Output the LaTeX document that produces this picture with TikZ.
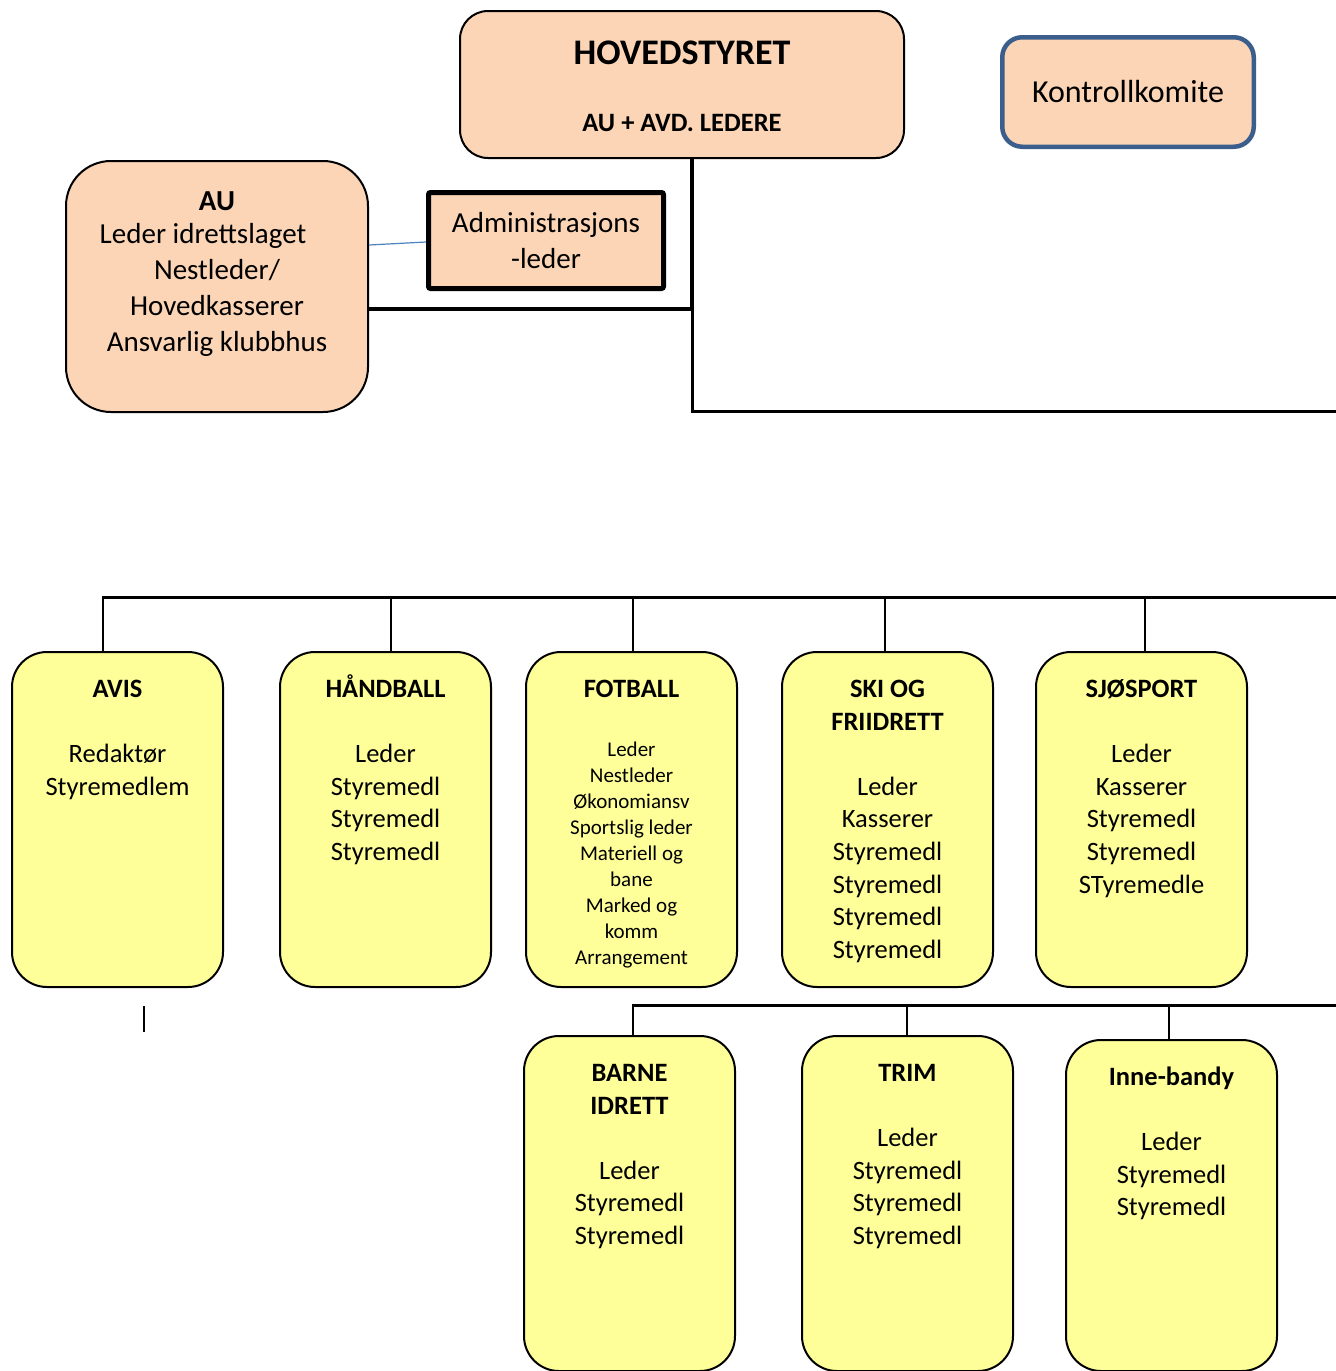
\documentclass[tikz,border=0pt]{standalone}
\usepackage{fontspec}
\setmainfont{Carlito}

\definecolor{peach}{HTML}{FBD5B5}
\definecolor{clubyellow}{HTML}{FFFF99}
\definecolor{kkblue}{HTML}{3B5E8C}
\definecolor{linkblue}{HTML}{4F81BD}

% text set from the top of a box: width, height, first baseline, lines
\newcommand{\boxtext}[4]{\parbox[t][#2][t]{#1}{\centering\rule{0pt}{#3}#4}}
\newcommand{\clubtext}[2][335pt]{\boxtext{211pt}{#1}{45.5pt}{#2}}

\begin{document}
\begin{tikzpicture}[x=1pt, y=-1pt,
    board/.style = {draw, fill=peach, line width=2pt, inner sep=0pt},
    club/.style = {draw, fill=clubyellow, line width=2pt, rounded corners=35pt,
                   inner sep=0pt, anchor=north west,
                   font=\fontsize{26.5}{32.6}\selectfont},
    bus/.style = {line width=3pt, line cap=rect},
    drop/.style = {line width=1.8pt}]
    \useasboundingbox (0,0) rectangle (1336,1371);
    \clip (0,0) rectangle (1336,1371);

    % board and committee
    \node[board, rounded corners=28pt, anchor=north west] (hoved) at (459,10)
        {\boxtext{444pt}{147pt}{53.6pt}{{\fontsize{36}{40}\selectfont\bfseries HOVEDSTYRET\par}%
         \vspace{34.9pt}\fontsize{26.5}{32}\selectfont\bfseries AU + AVD. LEDERE}};
    \node[board, draw=kkblue, line width=4.5pt, rounded corners=20pt,
          minimum width=251.5pt, minimum height=109.5pt,
          font=\fontsize{32}{38}\selectfont] (kontroll) at (1128,92) {Kontrollkomite};
    \node[board, rounded corners=45pt, anchor=north west,
          font=\fontsize{29}{36}\selectfont] (au) at (65,160)
        {\boxtext{302pt}{251pt}{49.3pt}{\textbf{AU}\\[-3pt]Leder idrettslaget\hspace{28pt}\mbox{}\\
         Nestleder/\\Hovedkasserer\\Ansvarlig klubbhus}};
    \node[board, line width=5pt, rounded corners=2pt, minimum width=235pt,
          minimum height=96pt, align=center,
          font=\fontsize{29}{36}\selectfont] (admin) at (546,240.5) {Administrasjons\\-leder};

    % departments, first row
    \node[club] (avis) at (11,651) {\clubtext{\textbf{AVIS}\\~\\Redaktør\\Styremedlem}};
    \node[club] (hand) at (279,651) {\clubtext{\textbf{HÅNDBALL}\\~\\Leder\\Styremedl\\Styremedl\\Styremedl}};
    \node[club] (fot) at (525,651) {\clubtext{\textbf{FOTBALL}\\[33.3pt]\fontsize{21}{26}\selectfont
        Leder\\Nestleder\\Økonomiansv\\Sportslig leder\\Materiell og\\bane\\Marked og\\komm\\Arrangement}};
    \node[club] (ski) at (781,651) {\clubtext{\textbf{SKI OG}\\\textbf{FRIIDRETT}\\~\\Leder\\Kasserer\\
        Styremedl\\Styremedl\\Styremedl\\Styremedl}};
    \node[club] (sjo) at (1035,651) {\clubtext{\textbf{SJØSPORT}\\~\\Leder\\Kasserer\\Styremedl\\Styremedl\\STyremedle}};

    % departments, second row
    \node[club] (barne) at (523,1035) {\clubtext{\textbf{BARNE}\\\textbf{IDRETT}\\~\\Leder\\Styremedl\\Styremedl}};
    \node[club] (trim) at (801,1035) {\clubtext{\textbf{TRIM}\\~\\Leder\\Styremedl\\Styremedl\\Styremedl}};
    \node[club] (inne) at (1065,1039) {\clubtext[331pt]{\textbf{Inne-bandy}\\~\\Leder\\Styremedl\\Styremedl}};

    \coordinate (trunk) at (692,411);
    \coordinate (eastA) at (1336,411);
    \coordinate (bus1) at (1336,597);
    \coordinate (bus2) at (1336,1005);

    % lines from the board
    \draw[line width=3.5pt] (hoved.south -| trunk) -- ([yshift=-22.5pt]au.east -| trunk)
        -- ([yshift=-22.5pt]au.east);
    \draw[bus] ([yshift=-22.5pt]au.east -| trunk) -- (trunk) -- (eastA);
    \draw[linkblue, line width=1.2pt] ([yshift=41.5pt]au.east) -- ([yshift=-1.5pt]admin.west);

    % first row
    \draw[bus] ([xshift=-14.5pt]avis.north |- bus1) -- (bus1);
    \foreach \n/\s in {avis/-14.5, hand/5.5, fot/1.5, ski/-2.5, sjo/3.5}
        \draw[drop] ([xshift=\s pt]\n.north) -- ([xshift=\s pt]\n.north |- bus1);

    % second row
    \draw[bus] ([xshift=3.5pt]barne.north |- bus2) -- (bus2);
    \foreach \n/\s in {barne/3.5, trim/-0.5, inne/-2.5}
        \draw[drop] ([xshift=\s pt]\n.north) -- ([xshift=\s pt]\n.north |- bus2);
    \draw[drop] (144,1006) -- (144,1032);
\end{tikzpicture}
\end{document}
